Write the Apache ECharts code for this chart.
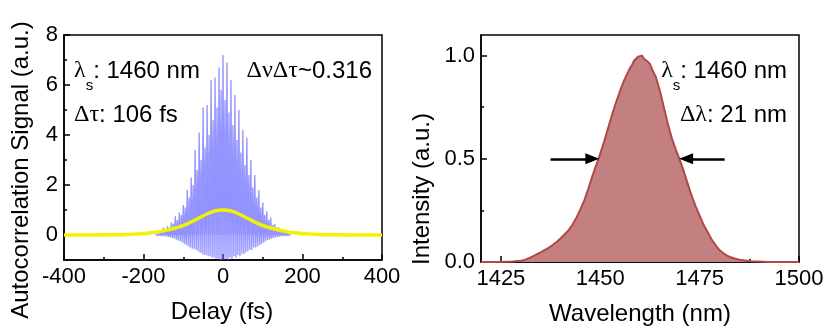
<!DOCTYPE html>
<html><head><meta charset="utf-8">
<script src="https://cdn.jsdelivr.net/npm/echarts@6/dist/echarts.min.js"></script>
<style>html,body{margin:0;padding:0;background:#fff}#c{width:828px;height:334px}</style>
</head><body><div id="c"></div>
<script>
// ---- Left panel: interferometric autocorrelation ----
const fringeDelays = [
-170,-167.5,-165,-162.5,-160,-157.5,-155,-152.5,-150,-147.5,
-145,-142.5,-140,-137.5,-135,-132.5,-130,-127.5,-125,-122.5,
-120,-117.5,-115,-112.5,-110,-107.5,-105,-102.5,-100,-97.5,
-95,-92.5,-90,-87.5,-85,-82.5,-80,-77.5,-75,-72.5,
-70,-67.5,-65,-62.5,-60,-57.5,-55,-52.5,-50,-47.5,
-45,-42.5,-40,-37.5,-35,-32.5,-30,-27.5,-25,-22.5,
-20,-17.5,-15,-12.5,-10,-7.5,-5,-2.5,0,2.5,
5,7.5,10,12.5,15,17.5,20,22.5,25,27.5,
30,32.5,35,37.5,40,42.5,45,47.5,50,52.5,
55,57.5,60,62.5,65,67.5,70,72.5,75,77.5,
80,82.5,85,87.5,90,92.5,95,97.5,100,102.5,
105,107.5,110,112.5,115,117.5,120,122.5,125,127.5,
130,132.5,135,137.5,140,142.5,145,147.5,150,152.5,
155,157.5,160,162.5,165,167.5,170];
const fringeSignal = [
0.03,-0.02,0.06,-0.02,0.1,-0.03,0.12,-0.04,0.3,-0.05,
0.22,-0.06,0.35,-0.08,0.3,-0.1,0.5,-0.12,0.45,-0.15,
0.75,-0.18,0.6,-0.22,0.9,-0.25,0.8,-0.3,1.2,-0.35,
1.1,-0.4,1.8,-0.45,1.5,-0.5,2.3,-0.55,2.0,-0.55,
3.4,-0.6,2.6,-0.65,4.1,-0.7,3.0,-0.75,5.1,-0.8,
3.5,-0.8,5.2,-0.85,4.0,-0.85,6.2,-0.9,4.6,-0.9,
6.3,-0.95,5.1,-0.95,6.7,-1.0,5.8,-1.0,7.2,-1.0,
5.4,-0.95,6.9,-1.0,4.9,-0.9,6.2,-0.95,4.4,-0.85,
5.6,-0.9,3.8,-0.8,5.0,-0.85,3.3,-0.75,4.2,-0.75,
2.8,-0.7,3.9,-0.65,2.4,-0.6,3.0,-0.6,1.9,-0.5,
2.4,-0.5,1.5,-0.45,1.8,-0.4,1.1,-0.35,1.3,-0.3,
0.8,-0.25,0.95,-0.2,0.6,-0.18,0.7,-0.15,0.4,-0.12,
0.45,-0.1,0.3,-0.08,0.3,-0.06,0.2,-0.05,0.18,-0.04,
0.12,-0.03,0.1,-0.02,0.06,-0.02,0.03];
const fitDelays = [-400,-360,-320,-280,-240,-200,-180,-160,-140,-120,-100,-80,-60,-40,-20,0,20,40,60,80,100,120,140,160,180,200,240,280,320,360,400];
const fitSignal = [0,0.002,0.004,0.008,0.02,0.06,0.09,0.14,0.2,0.28,0.38,0.52,0.68,0.84,0.96,1.0,0.96,0.84,0.68,0.52,0.38,0.28,0.2,0.14,0.09,0.06,0.02,0.008,0.004,0.002,0];
const delayTicks = [-400,-200,0,200,400];
const delayMinor = [-300,-100,100,300];
const acTicks = [0,2,4,6,8];
const acMinor = [1,3,5,7];

// ---- Right panel: spectrum ----
const wavelengths = [1420,1425,1428,1430,1431,1432,1433,1434,1435,1436,1437,1438,1439,1440,1441,1442,1443,1444,1445,1446,1447,1448,1449,1450,1451,1452,1453,1454,1455,1456,1457,1457.5,1458,1458.5,1459,1459.5,1460,1460.5,1461,1461.5,1462,1462.5,1463,1464,1465,1466,1467,1468,1469,1470,1471,1472,1473,1474,1475,1476,1477,1478,1479,1480,1481,1482,1483,1484,1485,1486,1487,1488,1490,1492,1495,1500];
const intensity = [0,0,0.002,0.006,0.01,0.018,0.027,0.037,0.047,0.058,0.069,0.082,0.097,0.114,0.133,0.153,0.18,0.215,0.255,0.3,0.355,0.415,0.47,0.525,0.585,0.65,0.715,0.775,0.83,0.88,0.92,0.94,0.955,0.975,0.985,0.995,0.99,1.0,0.985,0.99,0.97,0.96,0.935,0.895,0.83,0.75,0.67,0.6,0.545,0.495,0.44,0.38,0.32,0.27,0.225,0.18,0.145,0.11,0.082,0.058,0.042,0.03,0.022,0.016,0.011,0.008,0.006,0.004,0.002,0,0,0];
const wlTicks = [1425,1450,1475,1500];
const wlMinor = [1437.5,1462.5,1487.5];
const intTicks = [0,0.5,1.0];
const intMinor = [0.25,0.75];
const fwhmLevel = 0.5;
const arrowLeft = [1437.5, 1448.0];
const arrowRight = [1481.3, 1471.6];

const SANS = 'Liberation Sans, Arial, sans-serif';
const SERIF = 'Liberation Serif, Times New Roman, serif';

function mainX(grid, min, max, ticks, fmt) {
  return {type:'value', gridIndex:grid, min:min, max:max, position:'bottom',
    axisLine:{show:true, onZero:false, lineStyle:{color:'#000', width:1.5}},
    axisTick:{show:true, inside:true, length:6, lineStyle:{color:'#000', width:1.5}, customValues:ticks},
    axisLabel:{show:true, customValues:ticks, color:'#000', fontSize:22, fontFamily:SANS, margin:6, formatter:fmt},
    splitLine:{show:false}};
}
function minorX(grid, min, max, ticks) {
  return {type:'value', gridIndex:grid, min:min, max:max, position:'bottom',
    axisLine:{show:false, onZero:false},
    axisTick:{show:true, inside:true, length:3, lineStyle:{color:'#000', width:1.5}, customValues:ticks},
    axisLabel:{show:false}, splitLine:{show:false}};
}
function mainY(grid, min, max, ticks, fmt) {
  return {type:'value', gridIndex:grid, min:min, max:max, position:'left',
    axisLine:{show:true, onZero:false, lineStyle:{color:'#000', width:1.5}},
    axisTick:{show:true, inside:true, length:6, lineStyle:{color:'#000', width:1.5}, customValues:ticks},
    axisLabel:{show:true, customValues:ticks, color:'#000', fontSize:22, fontFamily:SANS, margin:6, formatter:fmt},
    splitLine:{show:false}};
}
function minorY(grid, min, max, ticks) {
  return {type:'value', gridIndex:grid, min:min, max:max, position:'left',
    axisLine:{show:false, onZero:false},
    axisTick:{show:true, inside:true, length:3, lineStyle:{color:'#000', width:1.5}, customValues:ticks},
    axisLabel:{show:false}, splitLine:{show:false}};
}

const richBase = {
  g:{fontFamily:SERIF, fontSize:24, color:'#000', verticalAlign:'top', height:24, lineHeight:24},
  m:{fontFamily:SANS, fontSize:24, color:'#000', verticalAlign:'top', height:24, lineHeight:24},
  sub:{fontFamily:SANS, fontSize:15, color:'#000', verticalAlign:'top', padding:[19,0,0,0]}
};
function label(x, y, text, align) {
  return {type:'text', x:x, y:y, z:100, style:{text:text, rich:richBase, align:align, verticalAlign:'top', fill:'#000', font:'24px '+SANS}};
}

const chart = echarts.init(document.getElementById('c'), null, {renderer:'canvas'});
chart.setOption({
  animation:false,
  backgroundColor:'#fff',
  grid:[
    {left:64, top:35, width:318, height:225, show:true, borderColor:'#000', borderWidth:1.5, backgroundColor:'transparent'},
    {left:481, top:35, width:318, height:227, show:true, borderColor:'#000', borderWidth:1.5, backgroundColor:'transparent'}
  ],
  xAxis:[
    mainX(0, -400, 400, delayTicks, v => String(v)),
    minorX(0, -400, 400, delayMinor),
    mainX(1, 1420, 1500, wlTicks, v => String(v)),
    minorX(1, 1420, 1500, wlMinor)
  ],
  yAxis:[
    mainY(0, -1, 8, acTicks, v => String(v)),
    minorY(0, -1, 8, acMinor),
    mainY(1, 0, 1.1, intTicks, v => v.toFixed(1)),
    minorY(1, 0, 1.1, intMinor)
  ],
  series:[
    {type:'line', xAxisIndex:0, yAxisIndex:0, showSymbol:false, symbol:'none',
     data: fringeDelays.map((d,i)=>[d, fringeSignal[i]]),
     lineStyle:{color:'rgba(105,105,255,0.68)', width:1.4},
     areaStyle:{color:'rgba(125,125,255,0.4)', origin:0}, z:2},
    {type:'line', xAxisIndex:0, yAxisIndex:0, showSymbol:false, symbol:'none', smooth:true,
     data: fitDelays.map((d,i)=>[d, fitSignal[i]]),
     lineStyle:{color:'#f2f200', width:3.5}, z:3},
    {type:'line', xAxisIndex:2, yAxisIndex:2, showSymbol:false, symbol:'none',
     data: wavelengths.map((w,i)=>[w, intensity[i]]),
     lineStyle:{color:'#b04848', width:2},
     areaStyle:{color:'#c48080', opacity:1}, z:2,
     markLine:{silent:true, symbol:['none','triangle'], symbolSize:[11,14], animation:false,
       label:{show:false}, lineStyle:{color:'#000', width:2.5, type:'solid'},
       data:[
         [{coord:[arrowLeft[0], fwhmLevel]},{coord:[arrowLeft[1], fwhmLevel]}],
         [{coord:[arrowRight[0], fwhmLevel]},{coord:[arrowRight[1], fwhmLevel]}]
       ]}}
  ],
  graphic:[
    {type:'text', x:21, y:170, rotation:Math.PI/2, style:{text:'Autocorrelation Signal (a.u.)', font:'24px '+SANS, fill:'#000', align:'center', verticalAlign:'middle'}},
    {type:'text', x:222, y:312, style:{text:'Delay (fs)', font:'24px '+SANS, fill:'#000', align:'center', verticalAlign:'middle'}},
    {type:'text', x:422, y:189, rotation:Math.PI/2, style:{text:'Intensity (a.u.)', font:'24px '+SANS, fill:'#000', align:'center', verticalAlign:'middle'}},
    {type:'text', x:640, y:314, style:{text:'Wavelength (nm)', font:'24px '+SANS, fill:'#000', align:'center', verticalAlign:'middle'}},
    label(74, 59, '{g|λ}{sub|s}{m|: 1460 nm}', 'left'),
    label(74, 103, '{g|Δτ}{m|: 106 fs}', 'left'),
    label(372, 59, '{g|ΔνΔτ}{m|~0.316}', 'right'),
    label(787, 59, '{g|λ}{sub|s}{m|: 1460 nm}', 'right'),
    label(787, 103, '{g|Δλ}{m|: 21 nm}', 'right')
  ]
});
</script></body></html>
